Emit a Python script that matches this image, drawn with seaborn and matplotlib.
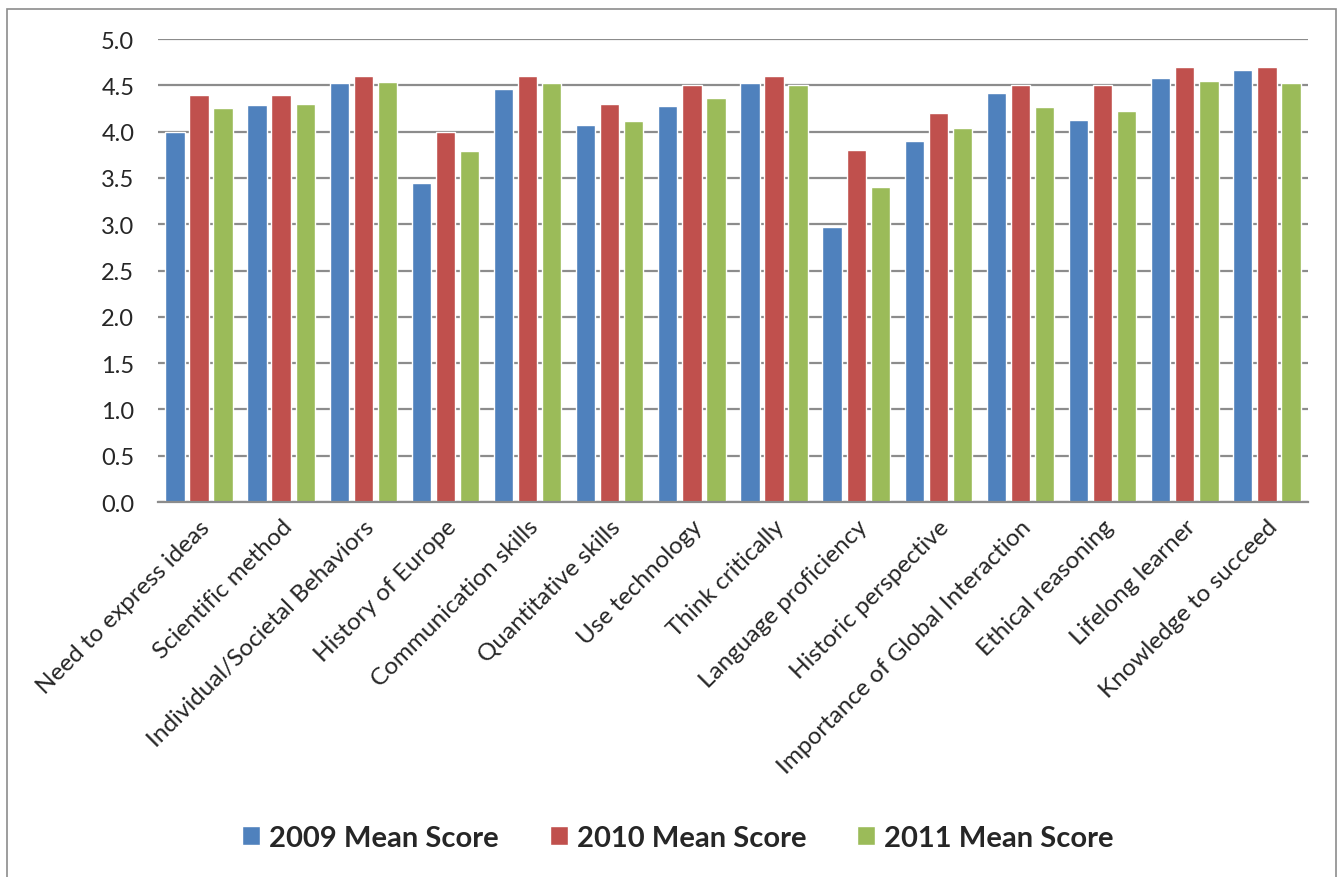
import matplotlib

matplotlib.use("Agg")
import matplotlib.pyplot as plt
import pandas as pd
import seaborn as sns
from matplotlib.patches import Rectangle

# ---- data ----
categories = [
    "Need to express ideas",
    "Scientific method",
    "Individual/Societal Behaviors",
    "History of Europe",
    "Communication skills",
    "Quantitative skills",
    "Use technology",
    "Think critically",
    "Language proficiency",
    "Historic perspective",
    "Importance of Global Interaction",
    "Ethical reasoning",
    "Lifelong learner",
    "Knowledge to succeed",
]
scores_2009 = [4.00, 4.29, 4.53, 3.45, 4.46, 4.07, 4.28, 4.53, 2.97, 3.90, 4.42, 4.13, 4.58, 4.67]
scores_2010 = [4.40, 4.40, 4.60, 4.00, 4.60, 4.30, 4.50, 4.60, 3.80, 4.20, 4.50, 4.50, 4.70, 4.70]
scores_2011 = [4.26, 4.30, 4.54, 3.79, 4.52, 4.12, 4.36, 4.50, 3.40, 4.04, 4.27, 4.22, 4.55, 4.53]
series_names = ["2009 Mean Score", "2010 Mean Score", "2011 Mean Score"]
y_ticks = [0.0, 0.5, 1.0, 1.5, 2.0, 2.5, 3.0, 3.5, 4.0, 4.5, 5.0]

df = pd.DataFrame({
    "Category": categories * 3,
    "Score": scores_2009 + scores_2010 + scores_2011,
    "Series": [s for s in series_names for _ in categories],
})

sns.set_style("white")
plt.rcParams["font.family"] = ["Lato", "DejaVu Sans"]

fig = plt.figure(figsize=(13.38, 8.78), dpi=100)
ax = fig.add_axes([0.118, 0.4271, 0.8596, 0.5273])

palette = ["#4F81BD", "#C0504D", "#9BBB59"]
sns.barplot(data=df, x="Category", y="Score", hue="Series", palette=palette,
            width=0.88, gap=0.2, ax=ax, saturation=1, legend=True)

ax.set_ylim(0, 5.0)
ax.set_xlim(-0.5, len(categories) - 0.5)
ax.set_yticks(y_ticks)
ax.set_yticklabels([f"{v:.1f}" for v in y_ticks], fontsize=17)
ax.yaxis.grid(True, color="#8C8C8C", linewidth=1.6)
ax.set_axisbelow(True)
ax.set_xlabel("")
ax.set_ylabel("")

for side in ["top", "right", "left"]:
    ax.spines[side].set_visible(False)
ax.spines["bottom"].set_color("#8C8C8C")
ax.spines["bottom"].set_linewidth(1.6)

ax.tick_params(axis="y", length=0, pad=17)
# labels at group centres, tick marks between groups
ax.set_xticks(range(len(categories)))
ax.set_xticklabels(categories, rotation=45, ha="right", va="top",
                   rotation_mode="anchor", fontsize=17.5)
ax.tick_params(axis="x", which="major", length=0, pad=10)
ax.set_xticks([i - 0.5 for i in range(len(categories) + 1)], minor=True)
ax.tick_params(axis="x", which="minor", length=6, width=1.4, color="#8C8C8C")

handles, labels = ax.get_legend_handles_labels()
ax.get_legend().remove()
fig.legend(handles, labels, loc="center", bbox_to_anchor=(678 / 1338, 1 - 839 / 878),
           ncol=3, frameon=False, handlelength=0.62, handleheight=0.62,
           columnspacing=1.75, handletextpad=0.3,
           prop={"weight": "bold", "size": 21})

fig.add_artist(Rectangle((7 / 1338, -0.02), 1329 / 1338, 1.02 - 10 / 878,
                         transform=fig.transFigure, fill=False,
                         edgecolor="#8C8C8C", linewidth=1.2))

fig.savefig("out.png", dpi=100)
